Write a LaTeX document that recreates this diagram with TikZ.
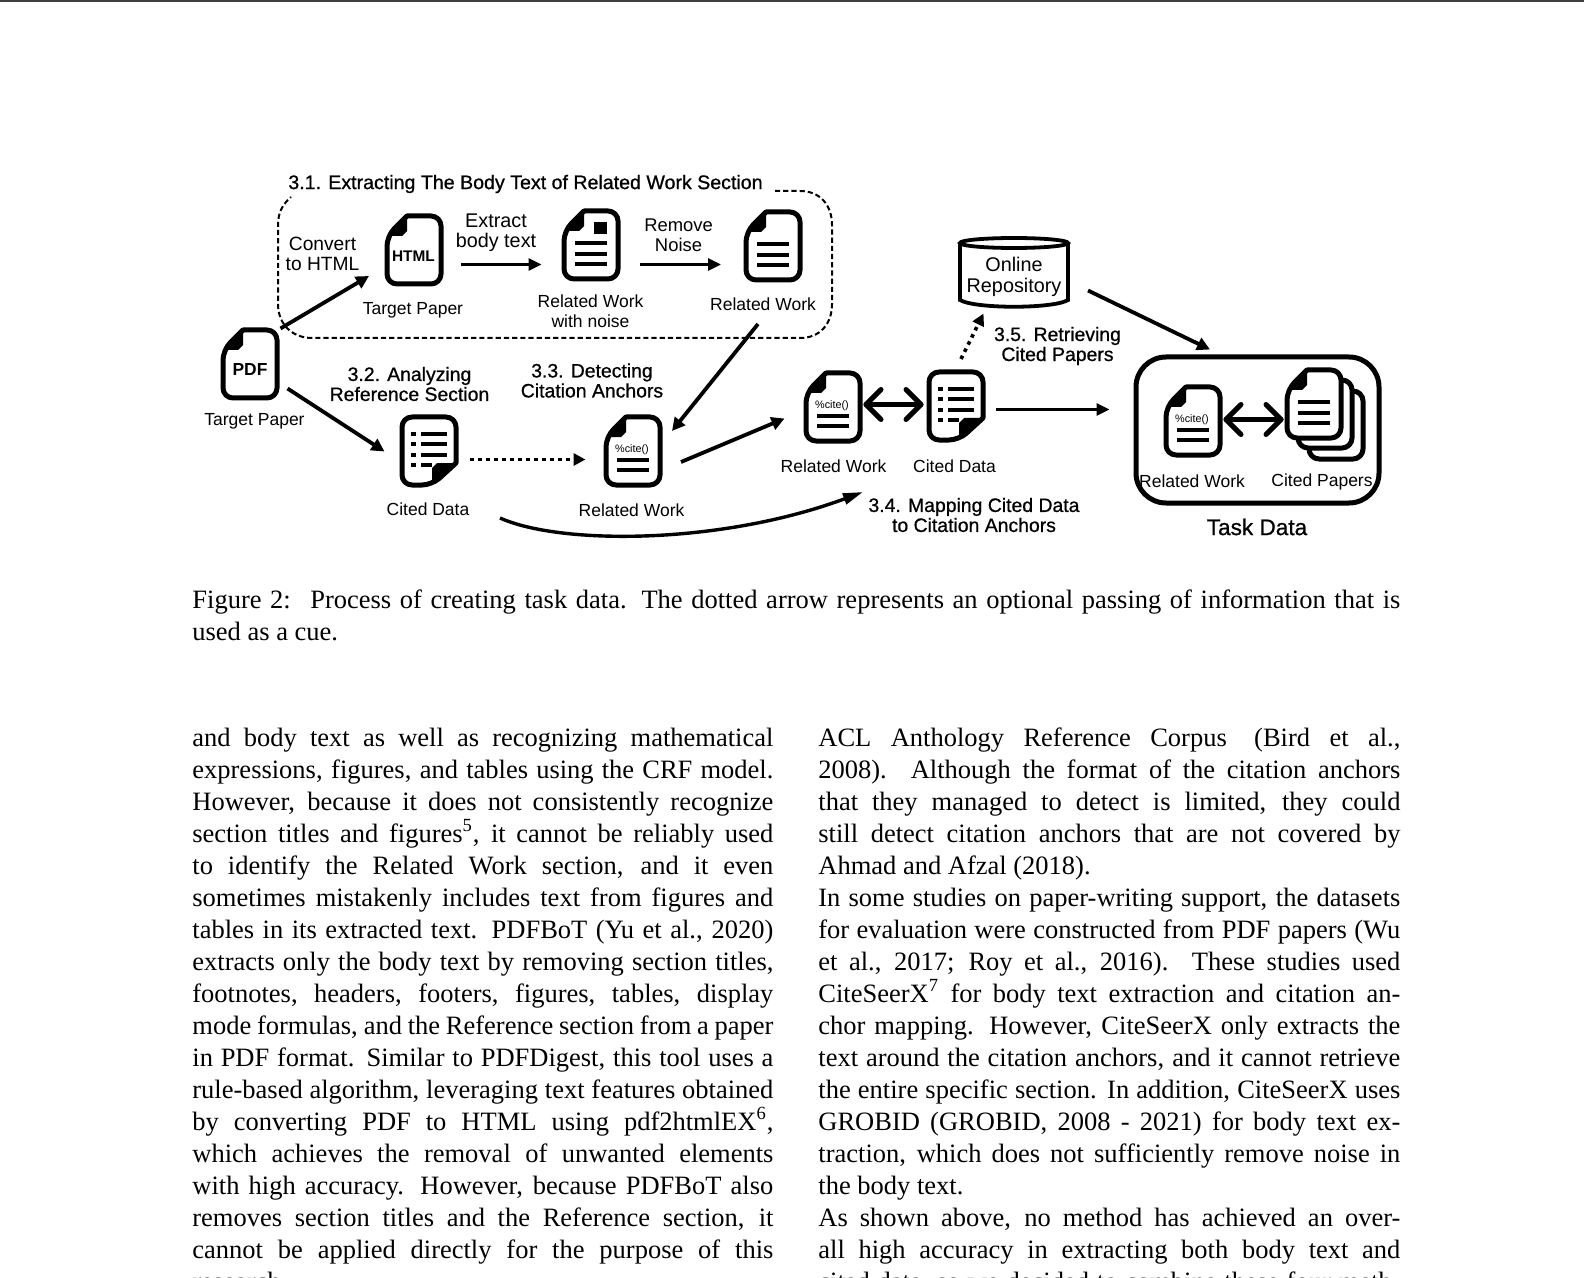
\documentclass[tikz,border=0pt]{standalone}
\usepackage{fontspec}
\setmainfont{Liberation Serif}
\newfontfamily\labelfont{Liberation Sans}
\newfontfamily\headfont[FakeBold=0.8]{Liberation Sans}
\usetikzlibrary{arrows.meta,calc}

\newcommand{\bodyrow}[1]{\hbox to \linewidth{\strut #1}\par}
\newcommand{\shortrow}[1]{\hbox{\strut #1}\par}
\newcommand{\notemark}[1]{\smash{\textsuperscript{#1}}}
\hbadness=10000
\hfuzz=20pt

\tikzset{
    labeltext/.style={font=\labelfont\fontsize{8.75}{10}\selectfont, align=center, inner sep=0pt},
    stepword/.style={font=\labelfont\fontsize{9.6}{10}\selectfont, align=center, inner sep=0pt},
    headtext/.style={font=\headfont\fontsize{9.7}{10}\selectfont, align=center, inner sep=0pt},
    icontext/.style={font=\labelfont\bfseries\fontsize{8.7}{10}\selectfont, inner sep=0pt, minimum width=29pt, minimum height=36pt},
    bodytext/.style={font=\fontsize{13.25}{16}\selectfont, anchor=north west, inner sep=0pt, align=justify},
    pageline/.style={line width=2.5pt, fill=white, line join=round},
    flow/.style={line width=1.5pt, -{Triangle[length=6.5pt,width=6pt]}},
    bigflow/.style={line width=1.9pt, -{Triangle[length=6.5pt,width=6.5pt]}},
    dotflow/.style={line width=1.8pt, dash pattern=on 1.8pt off 2.2pt, -{Triangle[length=6pt,width=6pt]}},
    pairline/.style={line width=2.5pt, line cap=round, line join=round},
    % the picture is measured in pixels of the page, y going down
    foldpage/.pic={
        \draw[pageline] (-7,-34) [rounded corners=5pt] -- (27,-34) -- (27,34) -- (-27,34) -- (-27,-14) [sharp corners] -- cycle;
        \fill[line join=round] (-27,-14) -- (-7,-34) -- (-7,-19) -- (-12,-14) -- cycle;
    },
    datapage/.pic={
        \draw[pageline] (27,12) [rounded corners=5pt] -- (27,-34) -- (-27,-34) -- (-27,34) -- (3,34) [sharp corners] -- cycle;
        \fill (27,12) -- (3,34) -- (3,17) -- (8,12) -- cycle;
        \foreach \y in {-17,-7,4} {
            \draw[line width=1.7pt] (-18,\y) -- (-13,\y);
            \draw[line width=1.7pt] (-8,\y) -- (18,\y);
        }
        \draw[line width=1.7pt] (-18,14) -- (-13,14);
        \draw[line width=1.7pt] (-8,14) -- (3,14);
    },
    threelines/.pic={
        \foreach \y in {-2,9,19} {
            \draw[line width=1.7pt] (-16,\y) -- (16,\y);
        }
    },
    citelines/.pic={
        \node[font=\labelfont\fontsize{5.4}{6}\selectfont, inner sep=0pt] (citeMark) at (-1,-1.5) {\%cite()};
        \foreach \y in {9,19} {
            \draw[line width=1.7pt] (-16,\y) -- (16,\y);
        }
    },
}

\begin{document}
\begin{tikzpicture}[x=0.5pt,y=-0.5pt]
    \useasboundingbox (0,0) rectangle (1584,1278);
    \clip (0,0) rectangle (1584,1278);
    \fill[black!75] (0,0) rectangle (1584,2);

    % Extraction group, open where its title sits
    \draw[line width=1pt, dash pattern=on 2.6pt off 1.5pt] (775,191) -- (800,191)
        .. controls (820,191) and (832,205) .. (832,225) -- (832,304)
        .. controls (832,324) and (820,338) .. (800,338) -- (312,338)
        .. controls (292,338) and (278,324) .. (278,304) -- (278,225)
        .. controls (278,212) and (283,204) .. (291,197);

    % Pages of the extraction step
    \pic at (250,364) {foldpage};
    \pic at (414,250) {foldpage};
    \pic at (591,245) {foldpage};
    \pic at (591,245) {threelines};
    \fill (594,222) rectangle (607,234);
    \pic at (773,246) {foldpage};
    \pic at (773,246) {threelines};

    % Pages of the lower row
    \pic at (429,451) {datapage};
    \pic at (633,451) {foldpage};
    \pic at (633,451) {citelines};
    \pic at (833,407) {foldpage};
    \pic at (833,407) {citelines};
    \pic at (956,406) {datapage};

    % Task data
    \draw[line width=2.5pt, rounded corners=15pt] (1136,357) rectangle (1379,503);
    \pic at (1193,421) {foldpage};
    \pic at (1193,421) {citelines};
    \pic at (1336,425) {foldpage};
    \pic at (1325,414) {foldpage};
    \pic at (1314,404) {foldpage};
    \pic at (1314,404) {threelines};

    % Page names
    \node[icontext] (pdfPaper) at (250,370) {PDF};
    \node[icontext, font=\labelfont\bfseries\fontsize{7.7}{10}\selectfont] (htmlPaper) at (413.5,256.5) {HTML};
    \node[icontext] (noisyWork) at (591,245) {};
    \node[icontext] (cleanWork) at (773,246) {};
    \node[icontext] (citedLeft) at (429,451) {};
    \node[icontext] (anchorWork) at (633,451) {};
    \node[icontext] (mappedWork) at (833,407) {};
    \node[icontext] (citedRight) at (956,406) {};
    \node[icontext] (taskWork) at (1193,421) {};
    \node[icontext] (taskPapers) at (1314,404) {};

    % Online repository
    \draw[line width=1.9pt, fill=white] (960,243) -- (960,300)
        .. controls (975,309) and (1053,309) .. (1068,300) -- (1068,243);
    \draw[line width=1.9pt] (1014,243) ellipse [x radius=54, y radius=5];
    \node[stepword, font=\labelfont\fontsize{9.9}{10.5}\selectfont] (repoLabel) at (1014,276.5) {Online\\Repository};

    % Labels
    \node[headtext, font=\headfont\fontsize{9.8}{10}\selectfont] (titleExtract) at (525.5,184) {3.1. Extracting The Body Text of Related Work Section};
    \node[stepword] (convertLabel) at (322.5,254) {Convert\\to HTML};
    \node[labeltext] (htmlName) at (413,310) {Target Paper};
    \node[stepword, font=\labelfont\fontsize{9.9}{10}\selectfont] (extractLabel) at (496,233) {Extract\\body text};
    \node[labeltext] (noisyName) at (590.5,311) {Related Work\\with noise};
    \node[stepword, font=\labelfont\fontsize{9.2}{10}\selectfont] (noiseLabel) at (678.5,235) {Remove\\Noise};
    \node[labeltext] (cleanName) at (763,304.5) {Related Work};
    \node[labeltext] (pdfName) at (254.5,421) {Target Paper};
    \node[headtext] (titleAnalyze) at (409.5,384) {3.2. Analyzing\\Reference Section};
    \node[headtext] (titleDetect) at (592,380.5) {3.3. Detecting\\Citation Anchors};
    \node[labeltext] (citedName) at (428,509.5) {Cited Data};
    \node[labeltext] (anchorName) at (631.5,510.5) {Related Work};
    \node[labeltext] (mappedName) at (833.5,466.5) {Related Work};
    \node[labeltext] (citedNameB) at (954.5,466.5) {Cited Data};
    \node[headtext] (titleRetrieve) at (1057.5,346) {3.5. Retrieving\\Cited Papers};
    \node[headtext] (titleMap) at (974,515) {3.4. Mapping Cited Data\\to Citation Anchors};
    \node[labeltext] (taskWorkName) at (1192,481.5) {Related Work};
    \node[labeltext] (taskPapersName) at (1322,482) {Cited Papers};
    \node[headtext, font=\headfont\fontsize{11.3}{12}\selectfont] (taskName) at (1257,527) {Task Data};

    % Free ends of the connectors
    \coordinate (convertFrom) at (280.5,328.5);
    \coordinate (convertTo) at (369,276);
    \coordinate (extractFrom) at (461,264.5);
    \coordinate (extractTo) at (541.5,264.5);
    \coordinate (noiseFrom) at (640,264.5);
    \coordinate (noiseTo) at (721,264.5);
    \coordinate (cleanFrom) at (758,324);
    \coordinate (cleanTo) at (672,431);
    \coordinate (pdfFrom) at (287.5,388.5);
    \coordinate (pdfTo) at (384.5,451.5);
    \coordinate (dotFrom) at (470,459.5);
    \coordinate (dotTo) at (585.5,459.5);
    \coordinate (anchorFrom) at (681,462);
    \coordinate (anchorTo) at (784.5,418.5);
    \coordinate (mapFrom) at (500,518);
    \coordinate (mapTo) at (863,492);
    \coordinate (pairFrom) at (866,404.5);
    \coordinate (pairTo) at (921,404.5);
    \coordinate (taskPairFrom) at (1226,419.5);
    \coordinate (taskPairTo) at (1281,419.5);
    \coordinate (dataFrom) at (996,409.5);
    \coordinate (dataTo) at (1109.5,409.5);
    \coordinate (repoFrom) at (961,359);
    \coordinate (repoTo) at (983.5,313.5);
    \coordinate (repoOutFrom) at (1088,290.5);
    \coordinate (repoOutTo) at (1210,349.5);

    % Connectors
    \draw[bigflow] (convertFrom) -- (convertTo);
    \draw[flow] (extractFrom) -- (extractTo);
    \draw[flow] (noiseFrom) -- (noiseTo);
    \draw[bigflow] (cleanFrom) -- (cleanTo);
    \draw[bigflow] (pdfFrom) -- (pdfTo);
    \draw[dotflow] (dotFrom) -- (dotTo);
    \draw[bigflow] (anchorFrom) -- (anchorTo);
    \draw[line width=1.7pt, -{Triangle[length=10pt,width=5.5pt]}] (mapFrom)
        .. controls (560,545) and (720,545) .. (mapTo);
    \draw[flow] (dataFrom) -- (dataTo);
    \draw[dotflow] (repoFrom) -- (repoTo);
    \draw[bigflow] (repoOutFrom) -- (repoOutTo);

    % Two way arrows with open heads
    \foreach \a/\b in {pairFrom/pairTo, taskPairFrom/taskPairTo} {
        \draw[pairline] (\a) -- (\b);
        \draw[pairline] ($(\a)+(15,-15)$) -- (\a) -- ($(\a)+(15,15)$);
        \draw[pairline] ($(\b)+(-15,-15)$) -- (\b) -- ($(\b)+(-15,15)$);
    }

    % Caption and the two columns below it
    \node[bodytext, text width=604pt] (figCaption) at (192,585.5) {%
        \bodyrow{Figure 2:\hspace{0.25em} Process of creating task data. The dotted arrow represents an optional passing of information that is}
        \shortrow{used as a cue.}};
    \node[bodytext, text width=290.5pt] (leftColumn) at (192,723.5) {%
        \bodyrow{and body text as well as recognizing mathematical}
        \bodyrow{expressions, figures, and tables using the CRF model.}
        \bodyrow{However, because it does not consistently recognize}
        \bodyrow{section titles and figures\notemark{5}, it cannot be reliably used}
        \bodyrow{to identify the Related Work section, and it even}
        \bodyrow{sometimes mistakenly includes text from figures and}
        \bodyrow{tables in its extracted text. PDFBoT (Yu et al., 2020)}
        \bodyrow{extracts only the body text by removing section titles,}
        \bodyrow{footnotes, headers, footers, figures, tables, display}
        \bodyrow{mode formulas, and the Reference section from a paper}
        \bodyrow{in PDF format. Similar to PDFDigest, this tool uses a}
        \bodyrow{rule-based algorithm, leveraging text features obtained}
        \bodyrow{by converting PDF to HTML using pdf2htmlEX\notemark{6},}
        \bodyrow{which achieves the removal of unwanted elements}
        \bodyrow{with high accuracy. However, because PDFBoT also}
        \bodyrow{removes section titles and the Reference section, it}
        \bodyrow{cannot be applied directly for the purpose of this}
        \shortrow{research.}};
    \node[bodytext, text width=291pt] (rightColumn) at (818,723.5) {%
        \bodyrow{ACL Anthology Reference Corpus\hspace{0.3em} (Bird et al.,}
        \bodyrow{2008). Although the format of the citation anchors}
        \bodyrow{that they managed to detect is limited, they could}
        \bodyrow{still detect citation anchors that are not covered by}
        \shortrow{Ahmad and Afzal (2018).}
        \bodyrow{In some studies on paper-writing support, the datasets}
        \bodyrow{for evaluation were constructed from PDF papers (Wu}
        \bodyrow{et al., 2017; Roy et al., 2016). These studies used}
        \bodyrow{CiteSeerX\notemark{7} for body text extraction and citation an-}
        \bodyrow{chor mapping. However, CiteSeerX only extracts the}
        \bodyrow{text around the citation anchors, and it cannot retrieve}
        \bodyrow{the entire specific section. In addition, CiteSeerX uses}
        \bodyrow{GROBID (GROBID, 2008 - 2021) for body text ex-}
        \bodyrow{traction, which does not sufficiently remove noise in}
        \shortrow{the body text.}
        \bodyrow{As shown above, no method has achieved an over-}
        \bodyrow{all high accuracy in extracting both body text and}
        \bodyrow{cited data, so we decided to combine these four meth-}};
\end{tikzpicture}
\end{document}
